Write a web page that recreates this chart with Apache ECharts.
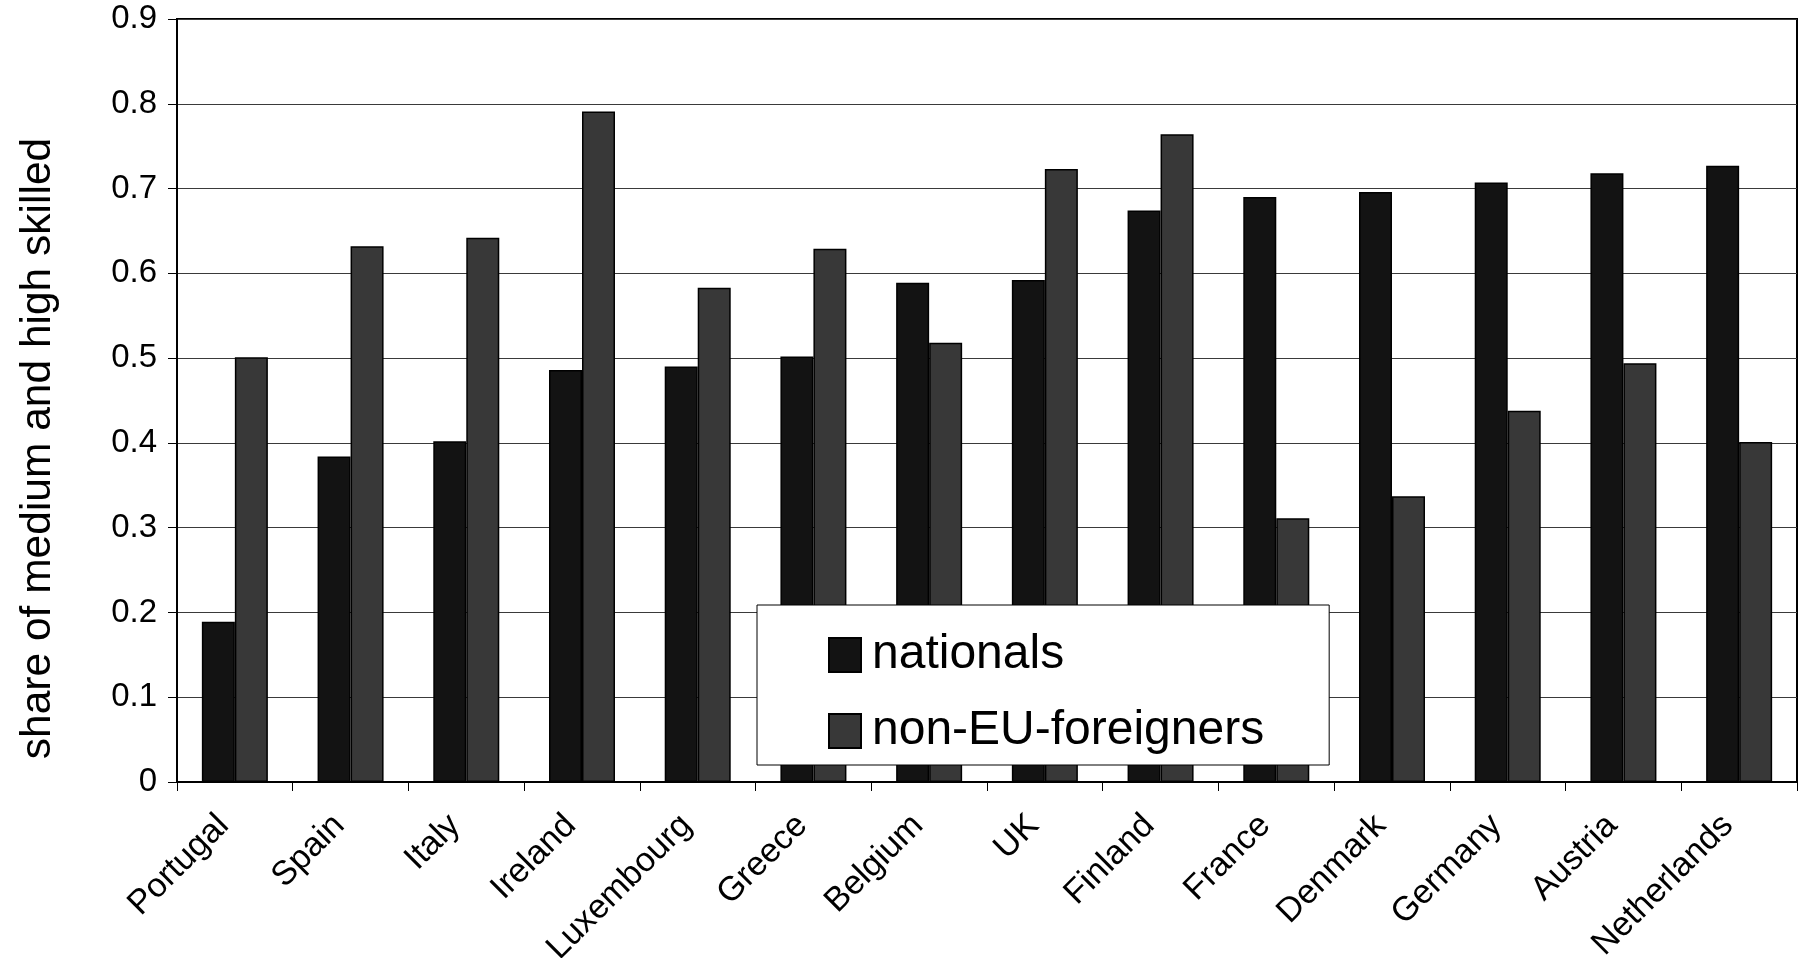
<!DOCTYPE html>
<html>
<head>
<meta charset="utf-8">
<title>share of medium and high skilled</title>
<script src="https://cdn.jsdelivr.net/npm/echarts@6/dist/echarts.min.js"></script>
<style>
  html, body { margin: 0; padding: 0; background: #fff; }
  #chart { width: 1803px; height: 958px; }
</style>
</head>
<body>
<div id="chart"></div>
<script>
// Countries, ordered by the share among nationals
const countries = ['Portugal', 'Spain', 'Italy', 'Ireland', 'Luxembourg', 'Greece', 'Belgium',
  'UK', 'Finland', 'France', 'Denmark', 'Germany', 'Austria', 'Netherlands'];

// Share of medium and high skilled workers
const nationals = [0.189, 0.384, 0.402, 0.486, 0.490, 0.502, 0.589,
  0.592, 0.674, 0.690, 0.696, 0.707, 0.718, 0.727];
const nonEuForeigners = [0.501, 0.632, 0.642, 0.791, 0.583, 0.629, 0.518,
  0.723, 0.764, 0.311, 0.337, 0.438, 0.494, 0.401];

// Value axis ticks
const yTicks = [0, 0.1, 0.2, 0.3, 0.4, 0.5, 0.6, 0.7, 0.8, 0.9];

const FONT = '"Liberation Sans", Arial, sans-serif';

const chart = echarts.init(document.getElementById('chart'), null, { renderer: 'canvas' });

chart.setOption({
  animation: false,
  backgroundColor: '#ffffff',
  textStyle: { fontFamily: FONT, color: '#000' },
  grid: {
    left: 177, right: 6, top: 19, bottom: 176,
    outerBoundsMode: 'none',
    containLabel: false,
    show: true, borderColor: '#000', borderWidth: 2, backgroundColor: 'transparent'
  },
  legend: {
    orient: 'vertical',
    left: 757, top: 605,
    padding: [26, 65, 10, 71],
    backgroundColor: '#ffffff',
    borderColor: '#000', borderWidth: 1,
    itemWidth: 32, itemHeight: 34, itemGap: 28,
    icon: 'rect',
    textStyle: { fontFamily: FONT, fontSize: 48, color: '#000', lineHeight: 40, padding: [0, 0, 0, 6] },
    data: ['nationals', 'non-EU-foreigners']
  },
  xAxis: {
    type: 'category',
    data: countries,
    boundaryGap: true,
    axisLine: { lineStyle: { color: '#000', width: 2 } },
    axisTick: { show: true, alignWithLabel: false, length: 9, lineStyle: { color: '#000', width: 1 } },
    axisLabel: {
      interval: 0, rotate: 45, fontSize: 34, color: '#000', fontFamily: FONT,
      margin: 27, padding: [0, 16, 0, 0]
    },
    splitLine: { show: false }
  },
  yAxis: {
    type: 'value',
    min: yTicks[0], max: yTicks[yTicks.length - 1], interval: 0.1,
    name: 'share of medium and high skilled',
    nameLocation: 'middle',
    nameRotate: 90,
    nameGap: 117,
    nameTextStyle: { fontSize: 42.5, color: '#000', fontFamily: FONT, padding: [0, 96, 0, 0] },
    axisLine: { show: true, lineStyle: { color: '#000', width: 2 } },
    axisTick: { show: true, length: 9, lineStyle: { color: '#000', width: 1 } },
    axisLabel: {
      fontSize: 33, color: '#000', fontFamily: FONT, margin: 20,
      formatter: v => (Math.round(v * 10) / 10).toString()
    },
    splitLine: { show: true, lineStyle: { color: '#3a3a3a', width: 1 } }
  },
  series: [
    {
      name: 'nationals',
      type: 'bar',
      data: nationals,
      barWidth: 33,
      barGap: '0%',
      itemStyle: { color: '#131313', borderColor: '#000', borderWidth: 1.5 }
    },
    {
      name: 'non-EU-foreigners',
      type: 'bar',
      data: nonEuForeigners,
      barWidth: 33,
      barGap: '0%',
      itemStyle: { color: '#383838', borderColor: '#000', borderWidth: 1.5 }
    }
  ]
});
</script>
</body>
</html>
